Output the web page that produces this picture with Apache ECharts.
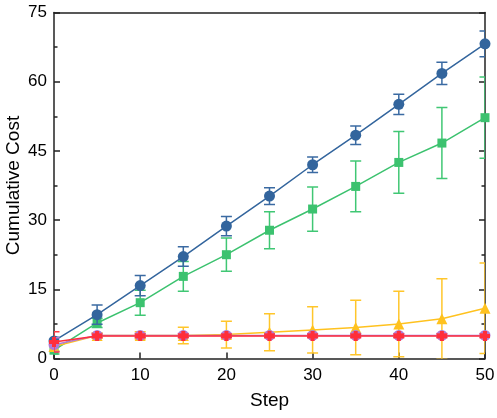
<!DOCTYPE html>
<html>
<head>
<meta charset="utf-8">
<script src="https://cdn.jsdelivr.net/npm/echarts@6/dist/echarts.min.js"></script>
<style>
  html, body { margin: 0; padding: 0; background: #fff; }
  #chart { width: 497px; height: 418px; }
</style>
</head>
<body>
<div id="chart"></div>
<script>
const steps = [0, 5, 10, 15, 20, 25, 30, 35, 40, 45, 50]
const yTicks = [0, 15, 30, 45, 60, 75]

const blue = [3.8, 9.5, 15.8, 22.1, 28.7, 35.2, 42.0, 48.4, 55.1, 61.8, 68.2]
const blueErr = [0.8, 2.1, 2.2, 2.1, 2.1, 1.8, 1.7, 2.0, 2.2, 2.4, 2.8]
const green = [1.8, 7.7, 12.1, 17.8, 22.5, 27.8, 32.4, 37.3, 42.5, 46.7, 52.2]
const greenErr = [0.8, 1.0, 2.7, 3.2, 3.6, 4.0, 4.8, 5.5, 6.7, 7.7, 8.8]
const yellow = [2.6, 5.0, 5.0, 5.0, 5.2, 5.7, 6.2, 6.7, 7.5, 8.6, 10.9]
const yellowErr = [1.0, 0.6, 0.8, 1.8, 2.9, 4.0, 5.0, 5.9, 7.1, 8.7, 9.8]
const purple = [3.0, 5.0, 5.0, 5.0, 5.0, 5.0, 5.0, 5.0, 5.0, 5.0, 5.0]
const purpleErr = [1.5, 0.4, 0.4, 0.4, 0.4, 0.4, 0.4, 0.4, 0.4, 0.4, 0.4]
const red = [3.6, 4.9, 4.9, 4.9, 4.9, 4.9, 4.9, 4.9, 4.9, 4.9, 4.9]
const redErr = [2.2, 0.4, 0.4, 0.4, 0.4, 0.4, 0.4, 0.4, 0.4, 0.4, 0.4]

const font = 'Liberation Sans, Arial, sans-serif'
const plus = 'path://M3,0 L7,0 L7,3 L10,3 L10,7 L7,7 L7,10 L3,10 L3,7 L0,7 L0,3 L3,3 Z'

const pairs = vals => steps.map((s, i) => [s, vals[i]])
const errPairs = (vals, errs) => steps.map((s, i) => [s, vals[i], errs[i]])

const errorBars = (vals, errs, color, z) => ({
  type: 'custom',
  clip: true,
  z,
  silent: true,
  data: errPairs(vals, errs),
  renderItem: (params, api) => {
    const x = api.value(0)
    const y = api.value(1)
    const e = api.value(2)
    const top = api.coord([x, y + e])
    const bot = api.coord([x, y - e])
    const w = 5.5
    const style = { stroke: color, lineWidth: 1.5 }
    return {
      type: 'group',
      children: [
        { type: 'line', shape: { x1: top[0], y1: top[1], x2: bot[0], y2: bot[1] }, style },
        { type: 'line', shape: { x1: top[0] - w, y1: top[1], x2: top[0] + w, y2: top[1] }, style },
        { type: 'line', shape: { x1: bot[0] - w, y1: bot[1], x2: bot[0] + w, y2: bot[1] }, style }
      ]
    }
  }
})

const lineSeries = (vals, color, symbol, size, z) => ({
  type: 'line',
  data: pairs(vals),
  symbol,
  symbolSize: size,
  showAllSymbol: true,
  z,
  lineStyle: { color, width: 1.5 },
  itemStyle: { color, borderWidth: 0 }
})

const chart = echarts.init(document.getElementById('chart'))
chart.setOption({
  animation: false,
  grid: { left: 54, right: 12, top: 12.5, bottom: 59.5, containLabel: false, outerBoundsMode: 'none' },
  xAxis: [
    {
      type: 'value',
      min: 0,
      max: 50,
      interval: 10,
      name: 'Step',
      nameLocation: 'middle',
      nameGap: 33,
      nameMoveOverlap: false,
      nameTextStyle: { fontFamily: font, fontSize: 19, color: '#000' },
      axisLine: { show: true, onZero: false, lineStyle: { color: '#222', width: 1.5 } },
      axisTick: { show: true, inside: true, length: 6, lineStyle: { color: '#222', width: 1.5 } },
      axisLabel: { fontFamily: font, fontSize: 17, color: '#000', margin: 8 },
      splitLine: { show: false }
    },
    {
      type: 'value',
      min: 0,
      max: 50,
      position: 'top',
      axisLine: { show: true, onZero: false, lineStyle: { color: '#222', width: 1.5 } },
      axisTick: { show: false },
      axisLabel: { show: false },
      splitLine: { show: false }
    }
  ],
  yAxis: [
    {
      type: 'value',
      min: 0,
      max: 75,
      interval: 15,
      name: 'Cumulative Cost',
      nameLocation: 'middle',
      nameGap: 31,
      nameMoveOverlap: false,
      nameTextStyle: { fontFamily: font, fontSize: 19, color: '#000' },
      axisLine: { show: true, onZero: false, lineStyle: { color: '#222', width: 1.5 } },
      axisTick: { show: true, inside: true, length: 6, lineStyle: { color: '#222', width: 1.5 } },
      minorTick: { show: true, splitNumber: 2, length: 3.5, lineStyle: { color: '#222', width: 1.5 } },
      axisLabel: {
        fontFamily: font,
        fontSize: 17,
        color: '#000',
        margin: 7,
        formatter: v => (yTicks.includes(v) ? String(v) : '')
      },
      splitLine: { show: false }
    },
    {
      type: 'value',
      min: 0,
      max: 75,
      interval: 15,
      position: 'right',
      axisLine: { show: true, onZero: false, lineStyle: { color: '#222', width: 1.5 } },
      axisTick: { show: true, inside: true, length: 6, lineStyle: { color: '#222', width: 1.5 } },
      minorTick: { show: true, splitNumber: 2, length: 3.5, lineStyle: { color: '#222', width: 1.5 } },
      axisLabel: { show: false },
      splitLine: { show: false }
    }
  ],
  series: [
    errorBars(green, greenErr, '#40c774', 2),
    lineSeries(green, '#3cc26f', 'rect', 9, 3),
    errorBars(blue, blueErr, '#3a6aa2', 4),
    lineSeries(blue, '#33659d', 'circle', 11, 5),
    errorBars(yellow, yellowErr, '#ffc62b', 6),
    lineSeries(yellow, '#ffc21f', 'triangle', 11, 7),
    errorBars(purple, purpleErr, '#b07ad6', 8),
    lineSeries(purple, '#b07ad6', 'circle', 11, 9),
    errorBars(red, redErr, '#ff3a45', 10),
    lineSeries(red, '#ff2e3a', plus, 10, 11)
  ]
})
</script>
</body>
</html>
